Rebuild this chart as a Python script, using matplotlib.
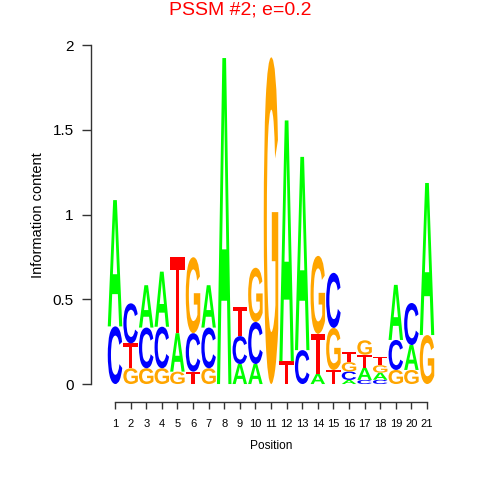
import matplotlib
matplotlib.use('Agg')
import matplotlib.pyplot as plt
from matplotlib.textpath import TextPath
from matplotlib.patches import PathPatch
from matplotlib.font_manager import FontProperties
from matplotlib.transforms import Affine2D

# Daten: Informationsgehalt je Base und Position (bits)
positions = list(range(1, 22))
bits_A = [0.745, 0.0, 0.25, 0.325, 0.227, 0.0, 0.25, 1.923, 0.118, 0.118, 0.0,
          1.42, 1.14, 0.06, 0.0, 0.024, 0.072, 0.042, 0.325, 0.147, 0.897]
bits_C = [0.34, 0.236, 0.24, 0.245, 0.0, 0.227, 0.24, 0.0, 0.165, 0.248, 0.0,
          0.0, 0.2, 0.0, 0.325, 0.05, 0.024, 0.025, 0.177, 0.248, 0.0]
bits_G = [0.0, 0.093, 0.093, 0.093, 0.073, 0.448, 0.093, 0.0, 0.0, 0.32, 1.927,
          0.0, 0.0, 0.46, 0.248, 0.055, 0.085, 0.044, 0.083, 0.083, 0.289]
bits_T = [0.0, 0.147, 0.0, 0.0, 0.448, 0.073, 0.0, 0.0, 0.173, 0.0, 0.0,
          0.135, 0.0, 0.236, 0.083, 0.06, 0.077, 0.048, 0.0, 0.0, 0.0]

farben = {'A': '#00FF00', 'C': '#0000FF', 'G': '#FFA500', 'T': '#FF0000'}
fp = FontProperties(family='Liberation Sans', weight='bold')


def zeichne_buchstabe(ax, b, x, y, h, breite=0.93):
    """Buchstabe b als Pfad in die Box [x-breite/2, x+breite/2] x [y, y+h] einpassen."""
    tp = TextPath((0, 0), b, size=1, prop=fp)
    ext = tp.get_extents()
    trans = (Affine2D().translate(-ext.x0, -ext.y0)
             .scale(breite / ext.width, h / ext.height)
             .translate(x - breite / 2, y))
    ax.add_patch(PathPatch(trans.transform_path(tp), facecolor=farben[b],
                           edgecolor='none', lw=0))


fig = plt.figure(figsize=(4.8, 4.8), dpi=100)
# Achsen in Pixelkoordinaten wie im Original
px_l, px_r, px_u, px_o = 90.7, 451.3, 402.0, 40.0
ax = fig.add_axes([px_l / 480, 1 - px_u / 480, (px_r - px_l) / 480, (px_u - px_o) / 480])

for i, pos in enumerate(positions):
    stapel = [('A', bits_A[i]), ('C', bits_C[i]), ('G', bits_G[i]), ('T', bits_T[i])]
    # kleinste Werte unten, wie bei seqLogo
    stapel = sorted([s for s in stapel if s[1] > 0], key=lambda s: s[1])
    y = 0.0
    for b, h in stapel:
        zeichne_buchstabe(ax, b, pos, y, h)
        y += h

ax.set_xlim(-0.558, 22.558)
ax.set_ylim(-0.106, 2.0295)

for s in ['top', 'right']:
    ax.spines[s].set_visible(False)
ax.spines['left'].set_bounds(0, 2)
ax.spines['bottom'].set_bounds(1, 21)
for s in ['left', 'bottom']:
    ax.spines[s].set_color('#333333')
    ax.spines[s].set_linewidth(1.0)

ax.set_yticks([0, 0.5, 1, 1.5, 2])
ax.set_yticklabels(['0', '0.5', '1', '1.5', '2'], family='Liberation Sans', fontsize=11)
ax.set_xticks(positions)
ax.set_xticklabels([str(p) for p in positions], family='Liberation Sans', fontsize=8)
ax.tick_params(axis='y', direction='out', length=6.3, width=1.0, pad=6, color='#333333')
ax.tick_params(axis='x', direction='out', length=5, width=1.0, pad=7.5, color='#333333')

fig.text(271 / 480, 1 - 446 / 480, 'Position', ha='center', va='center',
         family='Liberation Sans', fontsize=8.6)
fig.text(38 / 480, 1 - 215 / 480, 'Information content', ha='center', va='center',
         rotation=90, family='Liberation Sans', fontsize=10.5)
fig.text(240 / 480, 1 - 10 / 480, 'PSSM #2; e=0.2', ha='center', va='center',
         color='#FF0000', family='Liberation Sans', fontsize=14)

fig.savefig('out.png', dpi=100)
